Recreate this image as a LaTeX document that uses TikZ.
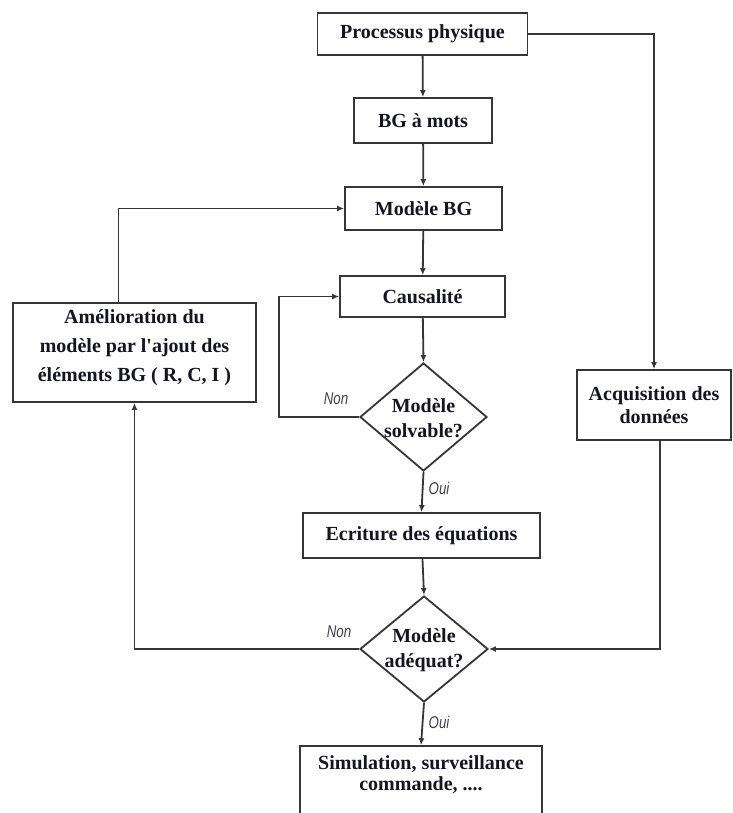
\documentclass[tikz,border=0pt]{standalone}
\usepackage{fontspec}
\setmainfont{Liberation Serif}[Ligatures=TeXOff]
\newfontfamily\labelfont[FakeStretch=0.78]{Liberation Sans}
\usetikzlibrary{shapes.geometric,arrows.meta}
\definecolor{linegray}{HTML}{363636}
\definecolor{inkdark}{HTML}{141422}
\definecolor{labelgray}{HTML}{3E3E4C}
\tikzset{
  flow/.style={draw=linegray, line width=1.8pt, fill=white, inner sep=0pt,
    align=center, text=inkdark,
    font=\fontsize{20}{27}\selectfont\bfseries},
  boxnode/.style={flow, rectangle},
  decision/.style={flow, diamond},
  flowtext/.style={align=center, text=inkdark, inner sep=0pt,
    font=\fontsize{20}{25}\selectfont\bfseries},
  link/.style={draw=linegray, line width=1.8pt,
    -{Latex[length=7pt,width=6pt]}},
  answer/.style={text=labelgray, inner sep=0pt,
    font=\fontsize{17}{18}\selectfont\labelfont\itshape}
}
\begin{document}
\begin{tikzpicture}[x=1pt, y=-1pt]
  \clip (0,0) rectangle (732,813);
  \fill[white] (0,0) rectangle (732,813);

  % main column
  \node[boxnode, minimum width=210pt, minimum height=42pt] (proc) at (422.5,34) {Processus physique};
  \node[boxnode, minimum width=138pt, minimum height=45pt] (bgm) at (423,120.5) {BG à mots};
  \node[boxnode, minimum width=157pt, minimum height=43pt] (mbg) at (423.5,208.5) {Modèle BG};
  \node[boxnode, minimum width=165pt, minimum height=41pt] (caus) at (422.5,296.5) {Causalité};
  \node[decision, minimum width=127pt, minimum height=108pt] (solv) at (423.5,417) {};
  \node[flowtext] (solvt) at (423.5,418) {Modèle\\solvable?};
  \node[boxnode, minimum width=237pt, minimum height=45pt] (ecr) at (421.5,535.5) {Ecriture des équations};
  \node[decision, minimum width=128pt, minimum height=106pt] (adeq) at (424,649) {};
  \node[flowtext] (adeqt) at (424,650) {Modèle\\adéquat?};
  \node[boxnode, minimum width=242pt, minimum height=78pt] (sim) at (421,785) {};
  \node[flowtext, font=\fontsize{20}{20.5}\selectfont\bfseries] (simt) at (421,774.5)
    {Simulation, surveillance\\commande, ....};

  % side boxes
  \node[boxnode, minimum width=243pt, minimum height=99pt] (amel) at (134.5,352.5) {};
  \node[flowtext, font=\fontsize{20}{29}\selectfont\bfseries] (amelt) at (134.5,348)
    {Amélioration du\\modèle par l'ajout des\\éléments BG ( R, C, I )};
  \node[boxnode, minimum width=154pt, minimum height=70pt, font=\fontsize{20}{23}\selectfont\bfseries] (acq) at (654,405)
    {Acquisition des\\données};

  % straight flow
  \draw[link] (proc) -- (bgm);
  \draw[link] (bgm) -- (mbg);
  \draw[link] (mbg) -- (caus);
  \draw[link] (caus) -- (solv.north);
  \draw[link] (solv.south) -- (ecr.north);
  \draw[link] (ecr) -- (adeq.north);
  \draw[link] (adeq.south) -- (sim.north);

  % loops and side branches
  \draw[link] (solv.west) -- ++(-80,0) |- (caus.west);
  \draw[link] (adeq.west) -| (amel.south);
  \draw[link] ([xshift=-16pt]amel.north) |- (mbg.west);
  \draw[link] (proc.east) -| (acq.north);
  \draw[link] ([xshift=6pt]acq.south) |- (adeq.east);

  % answers
  \node[answer] (non1) at (336,399) {Non};
  \node[answer] (oui1) at (439,488) {Oui};
  \node[answer] (non2) at (339,632) {Non};
  \node[answer] (oui2) at (439,722) {Oui};
\end{tikzpicture}
\end{document}
